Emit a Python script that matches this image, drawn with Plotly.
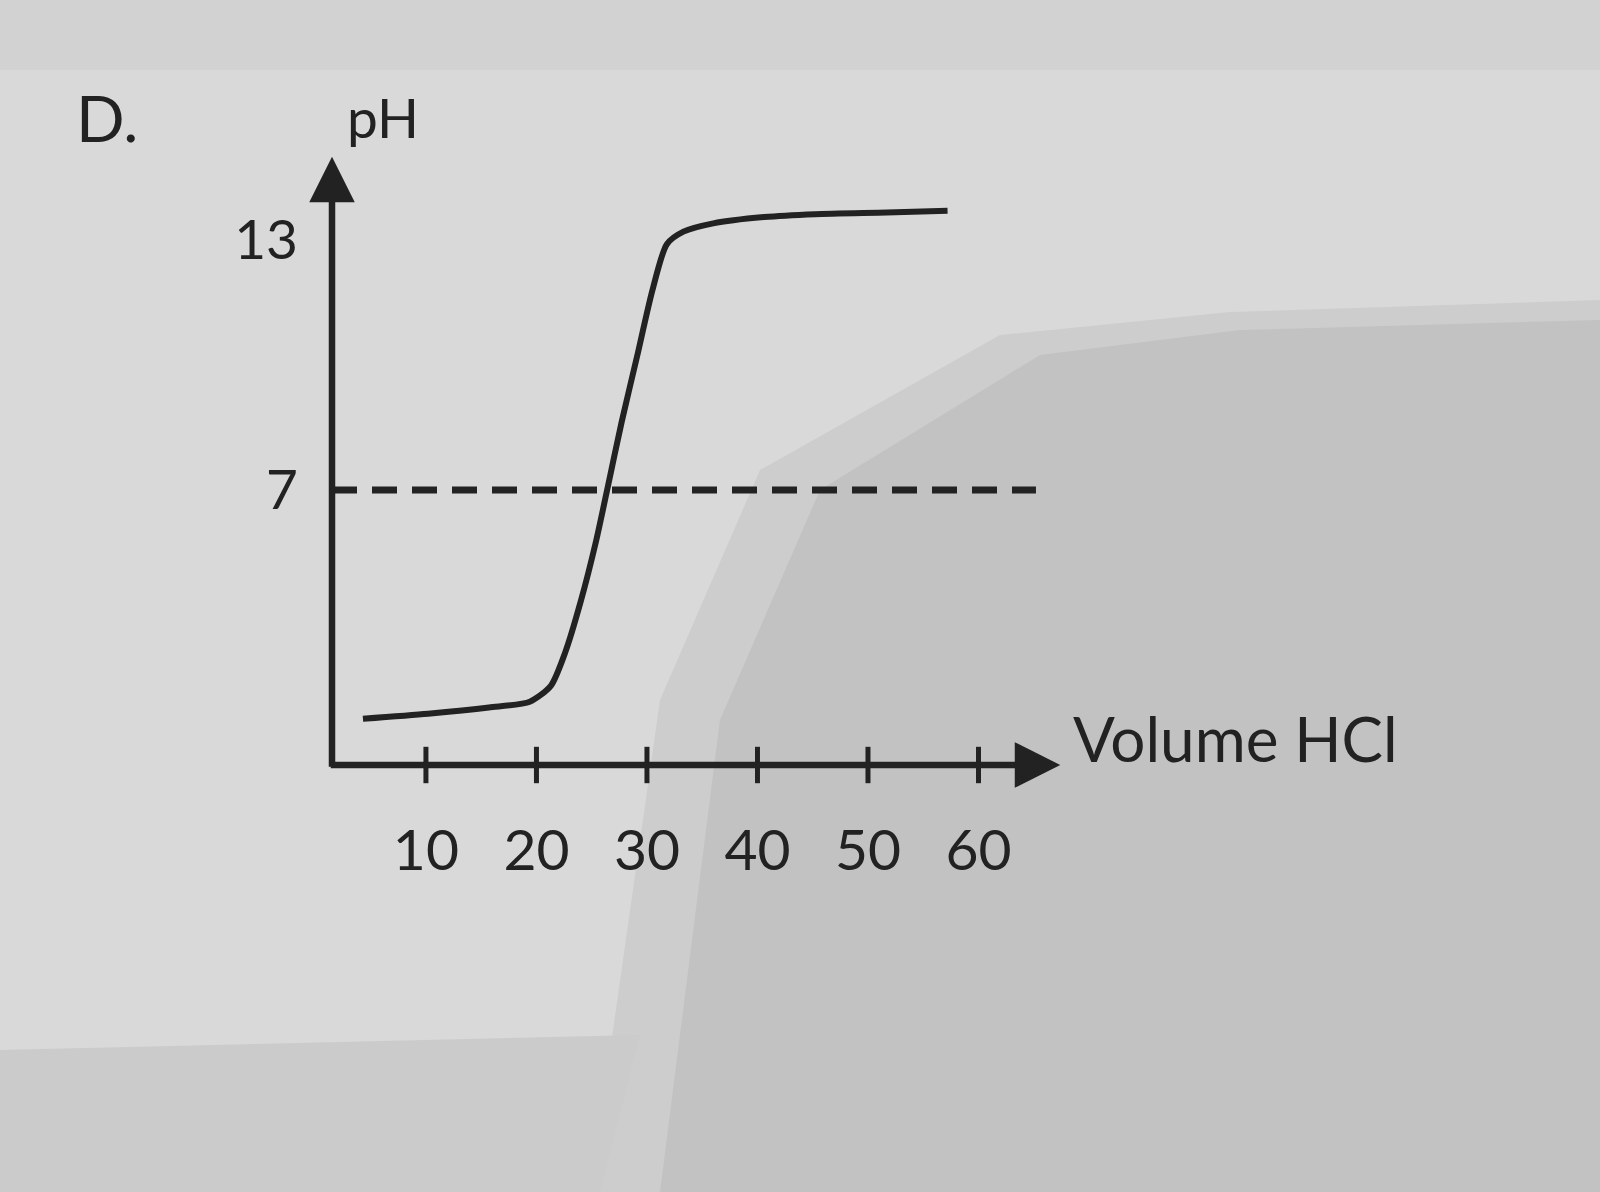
import plotly.graph_objects as go

# ---- data ----
volume_hcl = [4.3, 10.2, 15.7, 19.4, 21.3, 22.6, 24.0, 25.4, 26.5, 27.7, 29.1, 30.5, 31.8, 33.3, 36.0, 40.6, 45.2, 51.7, 57.2]
ph_values = [1.51, 1.63, 1.78, 1.92, 2.30, 3.10, 4.32, 5.78, 7.13, 8.62, 10.2, 11.8, 12.9, 13.2, 13.4, 13.55, 13.62, 13.66, 13.7]
x_ticks = [10, 20, 30, 40, 50, 60]
y_ticks = [7, 13]
y_tick_labels = ["7", "13"]
neutral_ph = 7
dash_end = 65.2

INK = "#222222"
FONT = "Lato, Carlito, sans-serif"

W, H = 1600, 1192
X0, X1 = 1.5, 70.0     # x range (axis origin at X0)
Y0, Y1 = 0.4, 16.0     # y range (axis origin at Y0)
ML, MR, MT, MB = 332, 511, 115, 427

fig = go.Figure()

# dashed pH 7 line
fig.add_trace(go.Scatter(x=[X0, dash_end], y=[neutral_ph, neutral_ph], mode="lines",
                         line=dict(color=INK, width=7, dash="25px,15px"),
                         hoverinfo="skip", showlegend=False))
# titration curve
fig.add_trace(go.Scatter(x=volume_hcl, y=ph_values, mode="lines",
                         line=dict(color=INK, width=6, shape="spline", smoothing=0.7),
                         showlegend=False))
# tick marks crossing the x axis
fig.add_trace(go.Scatter(x=x_ticks, y=[Y0] * len(x_ticks), mode="markers",
                         marker=dict(symbol="line-ns", size=26, line=dict(color=INK, width=5)),
                         cliponaxis=False, hoverinfo="skip", showlegend=False))

# axes drawn as arrows
fig.add_annotation(x=X0, y=15.0, ax=X0, ay=Y0 - 0.08, xref="x", yref="y", axref="x", ayref="y",
                   text="", showarrow=True, arrowhead=2, arrowsize=1.4, arrowwidth=6.5,
                   arrowcolor=INK)
fig.add_annotation(x=67.4, y=Y0, ax=X0 - 0.25, ay=Y0, xref="x", yref="y", axref="x", ayref="y",
                   text="", showarrow=True, arrowhead=2, arrowsize=1.4, arrowwidth=6.5,
                   arrowcolor=INK)

# labels
fig.add_annotation(x=6.1, y=15.95, xref="x", yref="y", text="pH", showarrow=False,
                   font=dict(family=FONT, size=55, color=INK), xanchor="center", yanchor="middle")
fig.add_annotation(x=-0.297, y=15.95, xref="paper", yref="y", text="D.", showarrow=False,
                   font=dict(family=FONT, size=64, color=INK), xanchor="center", yanchor="middle")
fig.add_annotation(x=68.4, y=1.05, xref="x", yref="y", text="Volume HCl", showarrow=False,
                   font=dict(family=FONT, size=62, color=INK), xanchor="left", yanchor="middle")

# photographed-paper shading (decorative)
def px(xp):
    return (xp - ML) / (W - ML - MR)

def py(yp):
    return (H - MB - yp) / (H - MT - MB)

def add_poly(pts, color):
    path = "M " + " L ".join(f"{px(a):.4f},{py(b):.4f}" for a, b in pts) + " Z"
    fig.add_shape(type="path", path=path, xref="paper", yref="paper", layer="below",
                  fillcolor=color, line=dict(width=0))

add_poly([(1600, 300), (1230, 312), (1000, 335), (760, 470), (660, 700), (590, 1192), (1600, 1192)], "#cdcdcd")
add_poly([(1600, 320), (1240, 330), (1040, 355), (820, 490), (720, 720), (660, 1192), (1600, 1192)], "#c2c2c2")
add_poly([(0, 1050), (640, 1035), (600, 1192), (0, 1192)], "#cbcbcb")
add_poly([(0, 0), (1600, 0), (1600, 70), (0, 70)], "#d2d2d2")

fig.update_layout(
    width=W, height=H, autosize=False,
    margin=dict(l=ML, r=MR, t=MT, b=MB, pad=0),
    paper_bgcolor="#d9d9d9", plot_bgcolor="rgba(0,0,0,0)",
    xaxis=dict(range=[X0, X1], tickvals=x_ticks, showgrid=False, zeroline=False, showline=False,
               ticks="outside", ticklen=36, tickcolor="rgba(0,0,0,0)",
               tickfont=dict(family=FONT, size=57, color=INK), automargin=False, fixedrange=True),
    yaxis=dict(range=[Y0, Y1], tickvals=y_ticks, ticktext=y_tick_labels, showgrid=False,
               zeroline=False, showline=False, ticks="outside", ticklen=22,
               tickcolor="rgba(0,0,0,0)", tickfont=dict(family=FONT, size=55, color=INK),
               automargin=False, fixedrange=True),
)

fig.write_html("out.html")
